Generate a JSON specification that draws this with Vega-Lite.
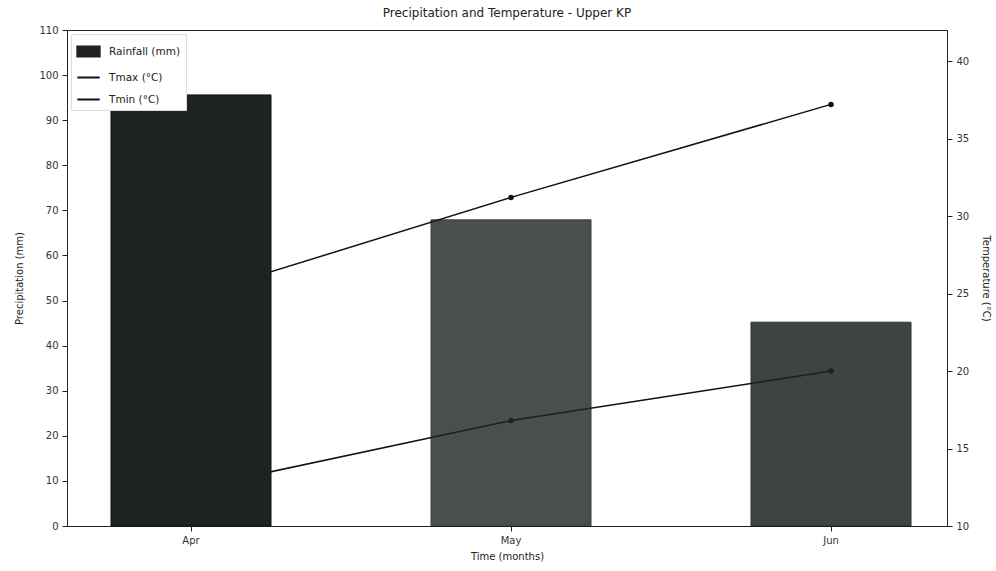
{
  "$schema": "https://vega.github.io/schema/vega-lite/v6.json",
  "autosize": {"type": "none"},
  "width": 880,
  "height": 496,
  "padding": {"left": 67, "top": 30, "right": 49, "bottom": 45},
  "background": "white",
  "title": {"text": "Precipitation and Temperature - Upper KP", "fontSize": 12, "fontWeight": "normal", "font": "DejaVu Sans", "color": "#222", "offset": 5},
  "config": {
    "view": {"stroke": "#222", "strokeWidth": 1},
    "axis": {"labelFont": "DejaVu Sans", "titleFont": "DejaVu Sans", "labelFontSize": 10, "titleFontSize": 10, "titleFontWeight": "normal", "labelColor": "#333", "titleColor": "#222", "domainColor": "#222", "tickColor": "#222", "grid": false},
    "legend": {"labelFont": "DejaVu Sans", "labelFontSize": 10.5, "labelColor": "#222"}
  },
  "datasets": {
    "rain": [
      {"month": "Apr", "rain": 95.6},
      {"month": "May", "rain": 67.9},
      {"month": "Jun", "rain": 45.2}
    ],
    "temp": [
      {"month": "Apr", "series": "Tmax (°C)", "temp": 24.8},
      {"month": "May", "series": "Tmax (°C)", "temp": 31.2},
      {"month": "Jun", "series": "Tmax (°C)", "temp": 37.2},
      {"month": "Apr", "series": "Tmin (°C)", "temp": 12.4},
      {"month": "May", "series": "Tmin (°C)", "temp": 16.8},
      {"month": "Jun", "series": "Tmin (°C)", "temp": 20.0}
    ]
  },
  "encoding": {
    "x": {
      "field": "month", "type": "nominal", "sort": ["Apr", "May", "Jun"],
      "scale": {"paddingInner": 0.5, "paddingOuter": 0.125, "align": 0.55},
      "axis": {"title": "Time (months)", "labelAngle": 0, "labelPadding": 4, "titlePadding": 6}
    }
  },
  "layer": [
    {
      "data": {"name": "temp"},
      "mark": {"type": "line", "point": {"filled": true, "size": 30}, "strokeWidth": 1.5},
      "encoding": {
        "y": {"field": "temp", "type": "quantitative", "scale": {"domain": [10, 42], "nice": false},
          "axis": {"orient": "right", "title": "Temperature (°C)", "values": [10, 15, 20, 25, 30, 35, 40], "labelPadding": 4, "titlePadding": 12}},
        "color": {"field": "series", "type": "nominal",
          "scale": {"domain": ["Rainfall (mm)", "Tmax (°C)", "Tmin (°C)"], "range": ["#1e2320", "#111111", "#111111"]},
          "legend": {"orient": "top-left", "title": null, "offset": 4, "fillColor": "white", "strokeColor": "#ddd", "padding": 5, "rowPadding": 4, "symbolSize": 500, "labelOffset": 8,
            "encode": {"symbols": {"update": {
              "shape": {"signal": "datum.label === 'Rainfall (mm)' ? 'M-1,-0.45L1,-0.45L1,0.45L-1,0.45Z' : 'stroke'"},
              "fill": {"signal": "datum.label === 'Rainfall (mm)' ? '#1e2320' : 'transparent'"},
              "stroke": {"value": "#111111"},
              "strokeWidth": {"value": 2},
              "opacity": {"value": 1}
            }}}}}
      }
    },
    {
      "data": {"name": "rain"},
      "mark": {"type": "bar", "stroke": "#111", "strokeWidth": 1},
      "encoding": {
        "y": {"field": "rain", "type": "quantitative", "scale": {"domain": [0, 110], "nice": false},
          "axis": {"title": "Precipitation (mm)", "values": [0, 10, 20, 30, 40, 50, 60, 70, 80, 90, 100, 110], "labelPadding": 4, "titlePadding": 14}},
        "color": {"datum": "Rainfall (mm)", "type": "nominal",
          "legend": {"orient": "top-left", "title": null, "offset": 4, "fillColor": "white", "strokeColor": "#ddd", "padding": 5, "rowPadding": 4, "symbolSize": 500, "labelOffset": 8,
            "encode": {"symbols": {"update": {
              "shape": {"signal": "datum.label === 'Rainfall (mm)' ? 'M-1,-0.45L1,-0.45L1,0.45L-1,0.45Z' : 'stroke'"},
              "fill": {"signal": "datum.label === 'Rainfall (mm)' ? '#1e2320' : 'transparent'"},
              "stroke": {"value": "#111111"},
              "strokeWidth": {"value": 2},
              "opacity": {"value": 1}
            }}}}},
        "opacity": {"field": "month", "type": "nominal", "scale": {"type": "ordinal", "domain": ["Apr", "May", "Jun"], "range": [1, 0.8, 0.85]}, "legend": null}
      }
    }
  ],
  "resolve": {"scale": {"y": "independent"}}
}
